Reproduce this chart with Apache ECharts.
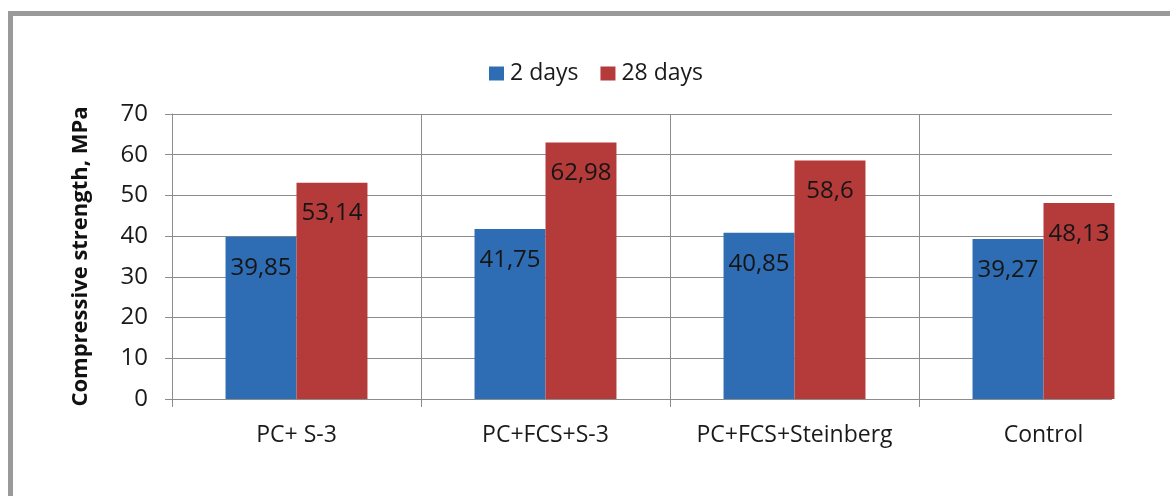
<!DOCTYPE html>
<html>
<head>
<meta charset="utf-8">
<style>
  html, body { margin: 0; padding: 0; background: #ffffff; }
  #chart { width: 1170px; height: 496px; }
</style>
<script src="https://cdn.jsdelivr.net/npm/echarts@6/dist/echarts.min.js"></script>
</head>
<body>
<div id="chart"></div>
<script>
// Compressive strength of mixes after 2 and 28 days of curing
const categories = ['PC+ S-3', 'PC+FCS+S-3', 'PC+FCS+Steinberg', 'Control'];
const seriesNames = ['2 days', '28 days'];
const strength2d = [39.85, 41.75, 40.85, 39.27];
const strength28d = [53.14, 62.98, 58.6, 48.13];
const yTicks = { min: 0, max: 70, interval: 10 };

const FONT = '"Open Sans", "DejaVu Sans", sans-serif';
const GRID_COLOR = '#8c8c8c';
const COLORS = ['#2e6cb3', '#b53a3a'];

// numbers are written with a decimal comma
const commaFormat = p => String(p.value).replace('.', ',');

const chart = echarts.init(document.getElementById('chart'), null, { renderer: 'canvas' });

function barSeries(name, data, color) {
  return {
    name: name,
    type: 'bar',
    data: data,
    barGap: '0%',
    barCategoryGap: '43%',
    itemStyle: { color: color },
    label: {
      show: true,
      position: 'insideTop',
      distance: 19,
      formatter: commaFormat,
      color: '#151515',
      fontFamily: FONT,
      fontSize: 24
    }
  };
}

chart.setOption({
  backgroundColor: '#ffffff',
  animation: false,
  color: COLORS,
  textStyle: { fontFamily: FONT },
  grid: { left: 172, top: 114, right: 2, bottom: 97, containLabel: false },
  legend: {
    data: seriesNames,
    left: 489,
    top: 62,
    padding: 0,
    icon: 'rect',
    itemWidth: 15,
    itemHeight: 14,
    itemGap: 22,
    textStyle: { fontFamily: FONT, fontSize: 23, color: '#1a1a1a', padding: [0, 0, 0, 1] }
  },
  xAxis: {
    type: 'category',
    data: categories,
    boundaryGap: true,
    axisLine: { show: true, lineStyle: { color: GRID_COLOR, width: 1 } },
    axisTick: { show: true, interval: 0, alignWithLabel: false, length: 8, lineStyle: { color: GRID_COLOR } },
    splitLine: { show: true, interval: 0, lineStyle: { color: GRID_COLOR, width: 1 } },
    axisLabel: { interval: 0, hideOverlap: false, margin: 25, fontFamily: FONT, fontSize: 23, color: '#1a1a1a' }
  },
  yAxis: {
    type: 'value',
    min: yTicks.min,
    max: yTicks.max,
    interval: yTicks.interval,
    name: 'Compressive strength, MPa',
    nameLocation: 'middle',
    nameRotate: 90,
    nameGap: 80,
    nameTextStyle: { fontFamily: FONT, fontSize: 22, fontWeight: 'bold', color: '#111111' },
    axisLine: { show: true, lineStyle: { color: GRID_COLOR, width: 1 } },
    axisTick: { show: true, length: 7, lineStyle: { color: GRID_COLOR } },
    splitLine: { show: true, lineStyle: { color: GRID_COLOR, width: 1 } },
    axisLabel: { margin: 24, fontFamily: FONT, fontSize: 24, color: '#1a1a1a' }
  },
  graphic: [
    // plot area stops short of the last category boundary
    {
      type: 'rect',
      z: 1,
      shape: { x: 1112, y: 100, width: 60, height: 320 },
      style: { fill: '#ffffff' },
      silent: true
    },
    // frame around the figure
    {
      type: 'polyline',
      z: 10,
      shape: { points: [[10.5, 496], [10.5, 13.5], [1170, 13.5]] },
      style: { stroke: '#9a9a9a', lineWidth: 5, fill: null },
      silent: true
    }
  ],
  series: [
    barSeries(seriesNames[0], strength2d, COLORS[0]),
    barSeries(seriesNames[1], strength28d, COLORS[1])
  ]
});
</script>
</body>
</html>
